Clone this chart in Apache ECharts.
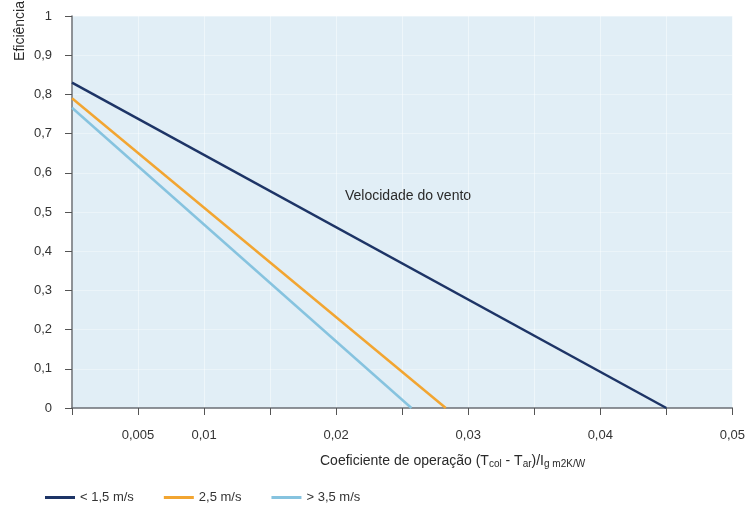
<!DOCTYPE html>
<html><head><meta charset="utf-8">
<script src="https://cdn.jsdelivr.net/npm/echarts@6/dist/echarts.min.js"></script>
<style>html,body{margin:0;padding:0;background:#fff}#c{width:748px;height:520px}</style>
</head><body><div id="c"></div>
<script>
const seriesNames = ['< 1,5 m/s', '2,5 m/s', '> 3,5 m/s'];
const seriesColors = ['#1d3466', '#f2a531', '#86c3df'];
const lowWind = [[0, 0.83], [0.045, 0]];
const midWind = [[0, 0.79], [0.0283, 0]];
const highWind = [[0, 0.766], [0.0257, 0]];
const xLabeled = [0.005, 0.01, 0.02, 0.03, 0.04, 0.05];
const fontFam = '"Liberation Sans Narrow","Arial Narrow","Liberation Sans",sans-serif';

const chart = echarts.init(document.getElementById('c'));
const fmt = v => String(+v.toFixed(4)).replace('.', ',');
chart.setOption({
  animation: false,
  backgroundColor: '#ffffff',
  grid: { left: 72, right: 15, top: 16, bottom: 112, show: true, backgroundColor: '#e1eef6', borderWidth: 0 },
  xAxis: {
    type: 'value', min: 0, max: 0.05, interval: 0.005,
    axisLine: { lineStyle: { color: '#6b6f75', width: 1.5 } },
    axisTick: { show: true, length: 7, lineStyle: { color: '#555' } },
    splitLine: { show: true, lineStyle: { color: 'rgba(255,255,255,0.45)' } },
    axisLabel: {
      margin: 21, color: '#333', fontFamily: fontFam, fontSize: 13,
      formatter: v => xLabeled.some(t => Math.abs(t - v) < 1e-9) ? fmt(v) : ''
    }
  },
  yAxis: {
    type: 'value', min: 0, max: 1, interval: 0.1,
    axisLine: { show: true, lineStyle: { color: '#6b6f75', width: 1.5 } },
    axisTick: { show: true, length: 7, lineStyle: { color: '#555' } },
    splitLine: { show: true, lineStyle: { color: 'rgba(255,255,255,0.35)' } },
    axisLabel: { margin: 20, color: '#333', fontFamily: fontFam, fontSize: 13, formatter: v => fmt(v) }
  },
  legend: {
    left: 40, top: 486, itemWidth: 30, itemHeight: 3, itemGap: 30, icon: 'rect',
    textStyle: { color: '#333', fontFamily: fontFam, fontSize: 13 },
    data: seriesNames
  },
  graphic: [
    { type: 'text', left: 345, top: 189, style: { text: 'Velocidade do vento', fill: '#2a2a2a', font: '14px ' + fontFam } },
    { type: 'text', left: 13, top: 1, rotation: Math.PI / 2, style: { text: 'Eficiência', fill: '#2a2a2a', font: '14px ' + fontFam } },
    { type: 'text', left: 320, top: 454, style: {
        text: '{n|Coeficiente de operação (T}{s|col}{n| - T}{s|ar}{n|)/I}{s|g m2K/W}',
        rich: {
          n: { fill: '#2a2a2a', font: '14px ' + fontFam },
          s: { fill: '#2a2a2a', font: '10px ' + fontFam, padding: [6, 0, 0, 0] }
        } } }
  ],
  series: [
    { name: seriesNames[0], type: 'line', data: lowWind, symbol: 'none', lineStyle: { color: seriesColors[0], width: 2.5 }, itemStyle: { color: seriesColors[0] } },
    { name: seriesNames[1], type: 'line', data: midWind, symbol: 'none', lineStyle: { color: seriesColors[1], width: 2.5 }, itemStyle: { color: seriesColors[1] } },
    { name: seriesNames[2], type: 'line', data: highWind, symbol: 'none', lineStyle: { color: seriesColors[2], width: 2.5 }, itemStyle: { color: seriesColors[2] } }
  ]
});
</script></body></html>
